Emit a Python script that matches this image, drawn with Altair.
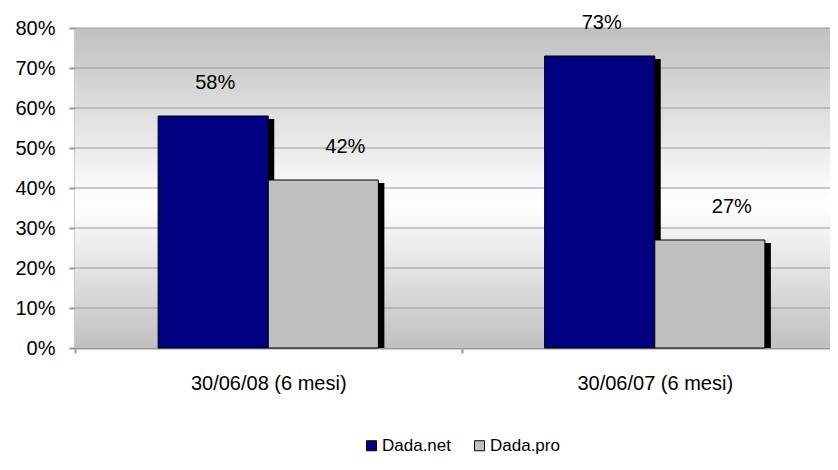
import altair as alt
import pandas as pd

categories = ["30/06/08 (6 mesi)", "30/06/07 (6 mesi)"]
series = ["Dada.net", "Dada.pro"]
dada_net = [0.58, 0.73]
dada_pro = [0.42, 0.27]
y_ticks = [0.0, 0.1, 0.2, 0.3, 0.4, 0.5, 0.6, 0.7, 0.8]
colors = ["#000080", "#c0c0c0"]

rows = []
for i, c in enumerate(categories):
    rows.append({"cat": c, "series": series[0], "v": dada_net[i]})
    rows.append({"cat": c, "series": series[1], "v": dada_pro[i]})
df = pd.DataFrame(rows)
grid_df = pd.DataFrame({"v": y_ticks[1:]})

FONT = "Liberation Sans"
W, H = 755, 320
XR = 773

def xenc(shift=0, axis=None):
    return alt.X("cat:N", sort=categories, axis=axis,
                 scale=alt.Scale(range=[shift, XR + shift], paddingInner=0, paddingOuter=0))

def xoff():
    return alt.XOffset("series:N", sort=series,
                       scale=alt.Scale(paddingOuter=0.755, paddingInner=0))

def yenc(shift=0, axis=None):
    return alt.Y("v:Q", axis=axis,
                 scale=alt.Scale(domain=[0, 0.8], range=[H + shift, shift], nice=False))

grad = alt.Gradient(
    gradient="linear",
    stops=[alt.GradientStop(color="#c0c0c0", offset=0),
           alt.GradientStop(color="#ffffff", offset=0.55),
           alt.GradientStop(color="#c0c0c0", offset=1)],
    x1=0, x2=0, y1=0, y2=1)

bg = alt.Chart(pd.DataFrame({"a": [0]})).mark_rect(fill=grad).encode(
    x=alt.value(0), x2=alt.value(W), y=alt.value(0), y2=alt.value(H))

grid = alt.Chart(grid_df).mark_rule(color="#9a9a9a", strokeWidth=1).encode(
    y=yenc(), x=alt.value(0), x2=alt.value(W))

shadow = alt.Chart(df).mark_bar(color="black", clip=True).encode(
    x=xenc(6), xOffset=xoff(), y=yenc(3))

bars = alt.Chart(df).mark_bar(stroke="black", strokeWidth=1).encode(
    x=xenc(0, alt.Axis(title=None, labelAngle=0, tickBand="extent", tickSize=5,
                       tickColor="#999999", tickWidth=2, domainColor="#999999",
                       domainWidth=2, labelPadding=20, labelFontSize=20,
                       labelFont=FONT, labelColor="black")),
    xOffset=xoff(),
    y=yenc(0, alt.Axis(title=None, values=y_ticks, format=".0%", grid=False,
                       tickSize=6, tickColor="#999999", tickWidth=2,
                       domainColor="#999999", domainWidth=2, labelPadding=14,
                       labelFontSize=20, labelFont=FONT, labelColor="black")),
    color=alt.Color("series:N", sort=series,
                    scale=alt.Scale(domain=series, range=colors),
                    legend=alt.Legend(title=None, orient="none", legendX=288, legendY=409,
                                      direction="horizontal", symbolType="square",
                                      symbolSize=100, symbolStrokeColor="black",
                                      symbolStrokeWidth=1, symbolOpacity=1,
                                      labelFontSize=17, labelFont=FONT, labelColor="black",
                                      labelOffset=2, columnPadding=20, padding=0)),
)

def labels(s, dx):
    return alt.Chart(df).transform_filter(alt.datum.series == s).mark_text(
        font=FONT, fontSize=20, color="black", baseline="middle", dy=-33, dx=dx).encode(
        x=xenc(), xOffset=xoff(), y=yenc(), text=alt.Text("v:Q", format=".0%"))

chart = alt.layer(bg, grid, shadow, bars, labels("Dada.net", 2), labels("Dada.pro", 22)).resolve_scale(
    x="independent", y="independent"
).properties(
    width=W, height=H,
    autosize=alt.AutoSizeParams(type="none"),
    padding={"left": 67, "top": 20, "right": 0, "bottom": 110},
).configure_view(stroke=None)

chart.save("out.html", embed_options={"renderer": "svg", "actions": False})
